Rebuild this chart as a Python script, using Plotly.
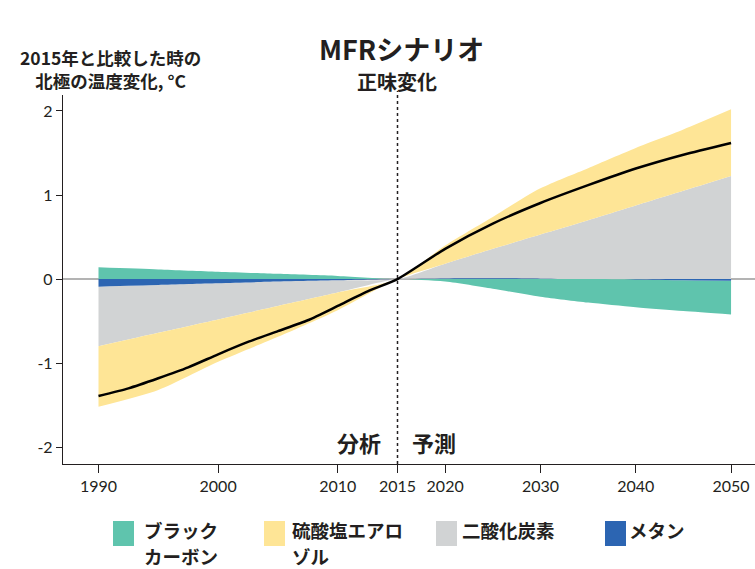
import plotly.graph_objects as go

# ---------------- data ----------------
years = [1990, 1995, 2000, 2005, 2010, 2015, 2020, 2025, 2030, 2035, 2040, 2045, 2050]
black_carbon = [0.14, 0.115, 0.088, 0.063, 0.038, 0.0, -0.03, -0.115, -0.21, -0.28, -0.33, -0.365, -0.40]
sulfate = [-0.72, -0.68, -0.505, -0.367, -0.21, 0.0, 0.217, 0.38, 0.55, 0.62, 0.684, 0.73, 0.794]
co2 = [-0.71, -0.57, -0.43, -0.29, -0.145, 0.0, 0.175, 0.35, 0.525, 0.70, 0.876, 1.05, 1.226]
methane = [-0.09, -0.07, -0.05, -0.03, -0.015, 0.0, 0.008, 0.01, 0.005, 0.0, -0.005, -0.015, -0.02]

net_years = [1990, 1992.5, 1995, 1997.5, 2000, 2002.5, 2005, 2007.5, 2010, 2012.5, 2015,
             2020, 2025, 2030, 2035, 2040, 2045, 2050]
net_change = [-1.39, -1.30, -1.18, -1.05, -0.895, -0.748, -0.619, -0.49, -0.32, -0.146, 0.0,
              0.36, 0.66, 0.905, 1.117, 1.315, 1.48, 1.62]

tick_years = [1990, 2000, 2010, 2015, 2020, 2030, 2040, 2050]
y_ticks = [-2, -1, 0, 1, 2]
y_ticktext = ["-2", "-1", "0", "1", "2"]

names = [["ブラック", "カーボン"], ["硫酸塩エアロ", "ゾル"], ["二酸化炭素"], ["メタン"]]
colors = {"bc": "#5fc4ad", "so4": "#fee596", "co2": "#d1d3d4", "ch4": "#2c65b2"}

# ---------------- axis scale: analysis part (1990-2015) is wider per year ----------------
SPLIT = 2015
RIGHT_SCALE = 9.53 / 11.96


def to_u(yr):
    return yr if yr <= SPLIT else SPLIT + (yr - SPLIT) * RIGHT_SCALE


xu = [to_u(y) for y in years]

# ---------------- stacking (positive up, negative down) ----------------
order = [("ch4", methane), ("co2", co2), ("so4", sulfate), ("bc", black_carbon)]
bands = {k: ([], []) for k, _ in order}
for i in range(len(years)):
    pos, neg = 0.0, 0.0
    for key, vals in order:
        v = vals[i]
        if v >= 0:
            lo, hi = pos, pos + v
            pos = hi
        else:
            hi, lo = neg, neg + v
            neg = lo
        bands[key][0].append(lo)
        bands[key][1].append(hi)

fig = go.Figure()
for key in ["co2", "so4", "bc", "ch4"]:
    lo, hi = bands[key]
    fig.add_trace(go.Scatter(x=xu, y=lo, mode="lines", line=dict(width=0, shape="spline", smoothing=0.7),
                             hoverinfo="skip", showlegend=False))
    fig.add_trace(go.Scatter(x=xu, y=hi, mode="lines", line=dict(width=0, shape="spline", smoothing=0.7),
                             fill="tonexty", fillcolor=colors[key], hoverinfo="skip", showlegend=False))

fig.add_trace(go.Scatter(x=[to_u(y) for y in net_years], y=net_change, mode="lines",
                         line=dict(color="#000000", width=2.5, shape="spline", smoothing=0.6),
                         showlegend=False))

# ---------------- layout ----------------
W, H = 755, 569
L, R, T, B = 63, 0, 95, 105
PW, PH = W - L - R, H - T - B


def px(x):
    return (x - L) / PW


def py(y):
    return (H - B - y) / PH


dark = "#231f20"
cjk = "Noto Sans CJK JP, Noto Sans, sans-serif"
tickfont = dict(family="Lato, Open Sans, sans-serif", size=16, color=dark)

u_left = 1990 - (98.5 - L) / 11.96
u_right = u_left + PW / 11.96

fig.update_layout(
    width=W, height=H,
    margin=dict(l=L, r=R, t=T, b=B, autoexpand=False),
    paper_bgcolor="white", plot_bgcolor="white",
    showlegend=False,
    xaxis=dict(range=[u_left, u_right], tickmode="array",
               tickvals=[to_u(y) for y in tick_years], ticktext=[str(y) for y in tick_years],
               showgrid=False, zeroline=False, showline=True, linecolor=dark, linewidth=1.3,
               ticks="outside", ticklen=8, tickwidth=1.3, tickcolor=dark, tickfont=tickfont,
               fixedrange=True),
    yaxis=dict(range=[-2.2, 2.19], tickmode="array", tickvals=y_ticks, ticktext=y_ticktext,
               showgrid=False, zeroline=True, zerolinecolor="#b3b3b3", zerolinewidth=1.5,
               showline=True, linecolor=dark, linewidth=1.3,
               ticks="outside", ticklen=6, tickwidth=1.3, tickcolor=dark, tickfont=tickfont,
               fixedrange=True),
)

# dotted divider at 2015
fig.add_shape(type="line", xref="x", yref="paper", x0=to_u(SPLIT), x1=to_u(SPLIT), y0=0, y1=py(91),
              line=dict(color=dark, width=1.5, dash="dot"), layer="above")

ann = []
ann.append(dict(text="<b>MFRシナリオ</b>", x=px(401), y=py(48), font=dict(family=cjk, size=27, color=dark)))
ann.append(dict(text="<b>正味変化</b>", x=px(397), y=py(82), font=dict(family=cjk, size=20, color=dark)))
ann.append(dict(text="<b>2015年と比較した時の<br>北極の温度変化, °C</b>", x=px(110), y=py(69),
                font=dict(family=cjk, size=17.5, color=dark)))
ann.append(dict(text="<b>分析</b>", x=px(359), y=py(442), font=dict(family=cjk, size=22, color=dark)))
ann.append(dict(text="<b>予測</b>", x=px(434), y=py(442), font=dict(family=cjk, size=22, color=dark)))

# legend (manual)
legend_items = [
    ("bc", names[0], 113, 143),
    ("so4", names[1], 264, 291),
    ("co2", names[2], 436, 461),
    ("ch4", names[3], 605, 628),
]
line_y = [530, 556]
for key, lines, rx, tx in legend_items:
    fig.add_shape(type="rect", xref="paper", yref="paper", x0=px(rx), x1=px(rx + 21),
                  y0=py(546), y1=py(521), fillcolor=colors[key], line=dict(width=0))
    for j, t in enumerate(lines):
        ann.append(dict(text="<b>" + t + "</b>", x=px(tx), y=py(line_y[j]), xanchor="left",
                        yanchor="middle", borderpad=0, font=dict(family=cjk, size=18.5, color=dark)))

for a in ann:
    a.setdefault("xanchor", "center")
    a.setdefault("yanchor", "middle")
    a.update(xref="paper", yref="paper", showarrow=False)
    fig.add_annotation(**a)

fig.write_html("out.html", post_script="document.body.style.margin='0px';",
               config={"displayModeBar": False})
